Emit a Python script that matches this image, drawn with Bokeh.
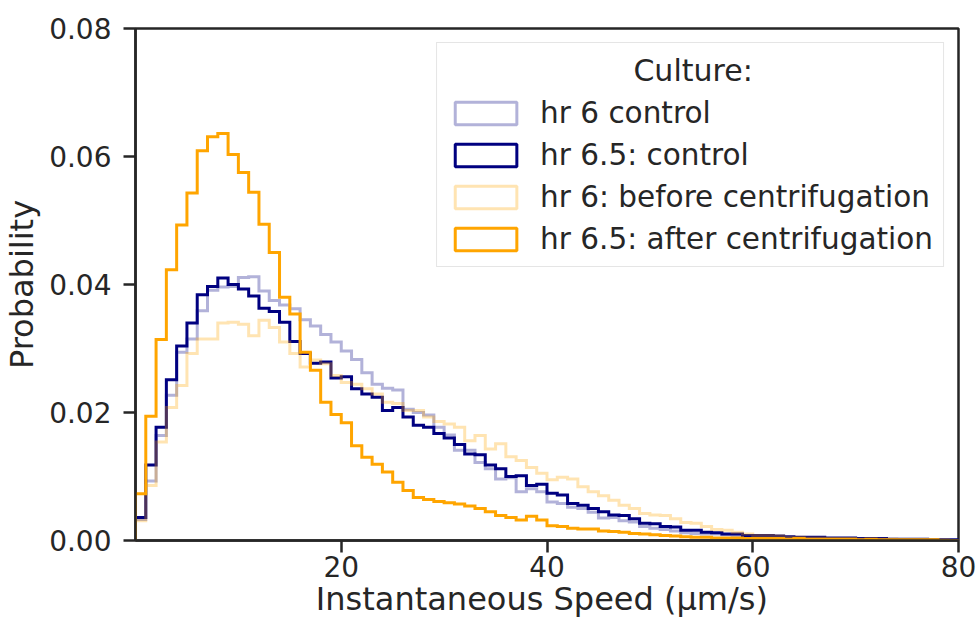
import numpy as np
from bokeh.plotting import figure
from bokeh.models import (Range1d, FixedTicker, NumeralTickFormatter, Legend,
                          LegendItem, Label)
from bokeh.embed import file_html
from bokeh.resources import INLINE

# ---------------- data (probability per 1 µm/s bin, bins 0..80) ----------------
bin_edges = list(range(0, 81))

hr6_control = [
    0.0033, 0.0093, 0.0164, 0.0227, 0.0294, 0.0315, 0.0359, 0.0391, 0.0396, 0.0397,
    0.0411, 0.0412, 0.0390, 0.0375, 0.0368, 0.0362, 0.0345, 0.0335, 0.0322, 0.0310,
    0.0296, 0.0283, 0.0262, 0.0244, 0.0238, 0.0235, 0.0205, 0.0200, 0.0196, 0.0177,
    0.0165, 0.0141, 0.0141, 0.0122, 0.0112, 0.0096, 0.0098, 0.0076, 0.0081, 0.0076,
    0.0060, 0.0058, 0.0052, 0.0050, 0.0044, 0.0035, 0.0036, 0.0031, 0.0029, 0.0022,
    0.0019, 0.0017, 0.0015, 0.0012, 0.0011, 0.0010, 0.0010, 0.0009, 0.0008, 0.0007,
    0.0006, 0.0006, 0.0005, 0.0005, 0.0004, 0.0004, 0.0003, 0.0003, 0.0003, 0.0003,
    0.0002, 0.0002, 0.0002, 0.0002, 0.0001, 0.0001, 0.0001, 0.0001, 0.0001, 0.0000,
]

hr65_control = [
    0.0036, 0.0118, 0.0177, 0.0251, 0.0304, 0.0340, 0.0384, 0.0397, 0.0410, 0.0400,
    0.0393, 0.0382, 0.0363, 0.0358, 0.0341, 0.0311, 0.0292, 0.0277, 0.0279, 0.0254,
    0.0256, 0.0237, 0.0229, 0.0224, 0.0203, 0.0208, 0.0193, 0.0180, 0.0177, 0.0167,
    0.0160, 0.0150, 0.0135, 0.0134, 0.0118, 0.0112, 0.0100, 0.0101, 0.0086, 0.0088,
    0.0074, 0.0071, 0.0058, 0.0055, 0.0050, 0.0045, 0.0040, 0.0039, 0.0034, 0.0027,
    0.0026, 0.0022, 0.0021, 0.0016, 0.0016, 0.0013, 0.0012, 0.0010, 0.0010, 0.0008,
    0.0008, 0.0008, 0.0007, 0.0006, 0.0005, 0.0005, 0.0005, 0.0004, 0.0004, 0.0004,
    0.0003, 0.0003, 0.0003, 0.0002, 0.0002, 0.0002, 0.0002, 0.0001, 0.0001, 0.0001,
]

hr6_before = [
    0.0031, 0.0086, 0.0154, 0.0208, 0.0242, 0.0292, 0.0315, 0.0315, 0.0340, 0.0341,
    0.0338, 0.0320, 0.0344, 0.0333, 0.0310, 0.0292, 0.0271, 0.0282, 0.0276, 0.0258,
    0.0247, 0.0244, 0.0237, 0.0229, 0.0216, 0.0214, 0.0203, 0.0203, 0.0193, 0.0186,
    0.0182, 0.0177, 0.0156, 0.0164, 0.0143, 0.0151, 0.0131, 0.0125, 0.0114, 0.0105,
    0.0095, 0.0099, 0.0096, 0.0084, 0.0076, 0.0070, 0.0063, 0.0055, 0.0050, 0.0042,
    0.0040, 0.0039, 0.0034, 0.0028, 0.0027, 0.0022, 0.0017, 0.0016, 0.0013, 0.0010,
    0.0008, 0.0008, 0.0007, 0.0005, 0.0005, 0.0004, 0.0004, 0.0003, 0.0003, 0.0003,
    0.0002, 0.0002, 0.0002, 0.0002, 0.0001, 0.0001, 0.0001, 0.0001, 0.0001, 0.0000,
]

hr65_after = [
    0.0073, 0.0194, 0.0314, 0.0423, 0.0493, 0.0543, 0.0609, 0.0631, 0.0636, 0.0603,
    0.0575, 0.0544, 0.0494, 0.0450, 0.0380, 0.0354, 0.0294, 0.0266, 0.0216, 0.0197,
    0.0184, 0.0148, 0.0130, 0.0119, 0.0107, 0.0091, 0.0078, 0.0067, 0.0064, 0.0061,
    0.0059, 0.0057, 0.0054, 0.0050, 0.0045, 0.0039, 0.0036, 0.0032, 0.0038, 0.0032,
    0.0023, 0.0022, 0.0019, 0.0018, 0.0018, 0.0015, 0.0014, 0.0013, 0.0011, 0.0010,
    0.0009, 0.0008, 0.0007, 0.0006, 0.0005, 0.0005, 0.0004, 0.0004, 0.0004, 0.0003,
    0.0003, 0.0003, 0.0003, 0.0002, 0.0003, 0.0002, 0.0002, 0.0002, 0.0002, 0.0002,
    0.0001, 0.0002, 0.0001, 0.0001, 0.0001, 0.0001, 0.0001, 0.0001, 0.0000, 0.0000,
]

series_labels = ["hr 6 control", "hr 6.5: control",
                 "hr 6: before centrifugation", "hr 6.5: after centrifugation"]
x_ticks = [20, 40, 60, 80]
y_ticks = [0.0, 0.02, 0.04, 0.06, 0.08]

# ---------------- styling ----------------
FONT = "DejaVu Sans"
TXT = "#262626"
NAVY = "#000080"
ORANGE = "#FFA500"
series = [
    (hr6_control, NAVY, 0.3),
    (hr65_control, NAVY, 1.0),
    (hr6_before, ORANGE, 0.3),
    (hr65_after, ORANGE, 1.0),
]

p = figure(width=978, height=625, output_backend="svg", toolbar_location=None,
           x_range=Range1d(0, 80), y_range=Range1d(0, 0.08),
           min_border_left=133, min_border_right=20, min_border_top=28,
           min_border_bottom=85)
p.background_fill_color = "white"
p.border_fill_color = "white"
p.xgrid.visible = False
p.ygrid.visible = False
p.outline_line_color = TXT
p.outline_line_width = 2.5
p.outline_line_alpha = 1.0

edges = np.array(bin_edges, dtype=float)
legend_items = []
for (vals, col, alpha), lab in zip(series, series_labels):
    v = np.array(vals, dtype=float)
    xs = np.repeat(edges, 2)
    ys = np.concatenate([[0.0], np.repeat(v, 2), [0.0]])
    p.line(xs, ys, line_color=col, line_alpha=alpha, line_width=3,
           line_join="miter")
    # legend swatch only (NaN geometry -> nothing drawn in the plot)
    sw = p.quad(left=[np.nan], right=[np.nan], top=[np.nan], bottom=[np.nan],
                fill_alpha=0, line_color=col, line_alpha=alpha, line_width=3)
    legend_items.append(LegendItem(label=lab, renderers=[sw]))

for ax in (p.xaxis[0], p.yaxis[0]):
    ax.axis_line_color = TXT
    ax.axis_line_width = 2.5
    ax.major_tick_line_color = TXT
    ax.major_tick_line_width = 2.5
    ax.major_tick_in = 0
    ax.major_tick_out = 12
    ax.minor_tick_line_color = None
    ax.major_label_text_font = FONT
    ax.major_label_text_font_size = "28px"
    ax.major_label_text_color = TXT
    ax.axis_label_text_font = FONT
    ax.axis_label_text_font_size = "32px"
    ax.axis_label_text_font_style = "normal"
    ax.axis_label_text_color = TXT

p.xaxis.ticker = FixedTicker(ticks=x_ticks)
p.yaxis.ticker = FixedTicker(ticks=y_ticks)
p.yaxis.formatter = NumeralTickFormatter(format="0.00")
p.xaxis.axis_label = "Instantaneous Speed  (µm/s)"
p.yaxis.axis_label = "Probability"
p.xaxis.major_label_standoff = 3
p.xaxis.axis_label_standoff = 0
p.yaxis.major_label_standoff = 12
p.yaxis.axis_label_standoff = 5

legend = Legend(items=legend_items, location="top_right", title=" ",
                title_text_font=FONT, title_text_font_size="30px",
                title_standoff=8,
                label_text_font=FONT, label_text_font_size="29.5px",
                label_text_color=TXT, label_height=34, label_standoff=16,
                glyph_width=77, glyph_height=28, spacing=8, padding=10,
                margin=14, border_line_color="#cccccc", border_line_width=1.5,
                background_fill_color="white", background_fill_alpha=0.0)
p.add_layout(legend)

title_lbl = Label(x=54.2, y=0.0734, text="Culture:", text_align="center",
                  text_baseline="middle", text_font=FONT,
                  text_font_size="30px", text_color=TXT)
p.add_layout(title_lbl)

open("out.html", "w").write(file_html(p, INLINE))
